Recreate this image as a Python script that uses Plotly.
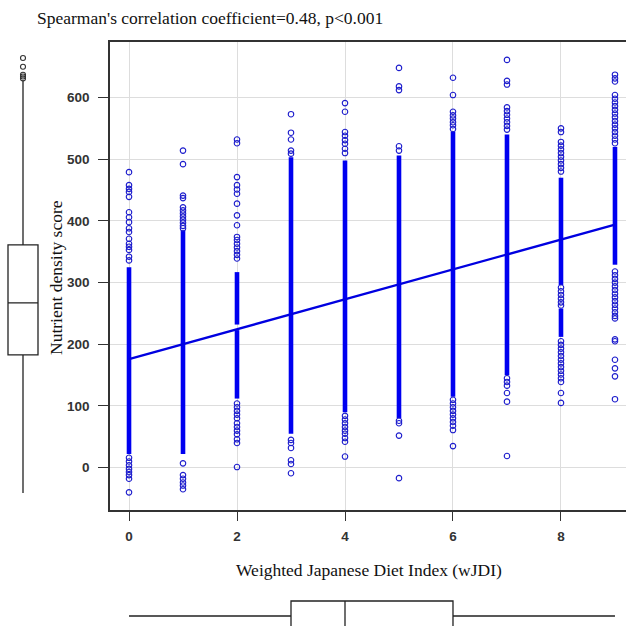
import plotly.graph_objects as go

# ---------------- data ----------------
WJDI = [0, 1, 2, 3, 4, 5, 6, 7, 8, 9]

# individually visible points (nutrient density score) per wJDI value
PTS_0 = [479, 458, 452, 447, 439, 414, 406, 398, 388, 382, 371, 363, 358, 353, 342, 336,
         16, 10, 4, -2, -7, -12, -18, -40]
PTS_1 = [514, 492, 441, 437, 422, 417, 412, 407, 402, 397, 392, 388,
         7, -12, -18, -24, -29, -35]
PTS_2 = [532, 526, 471, 458, 451, 444, 428, 409, 393, 374, 369, 363, 357, 351, 345, 339,
         104, 98, 92, 86, 80, 72, 66, 60, 54, 46, 40, 1]
PTS_3 = [573, 543, 532, 514, 509, 45, 40, 32, 12, 6, -9]
PTS_4 = [591, 577, 544, 538, 531, 525, 517, 510, 84, 78, 72, 66, 60, 55, 48, 42, 18]
PTS_5 = [648, 618, 612, 521, 514, 76, 72, 52, -17]
PTS_6 = [632, 604, 577, 571, 566, 560, 555, 549,
         110, 104, 98, 92, 86, 80, 74, 68, 61, 35]
PTS_7 = [661, 627, 621, 584, 578, 572, 566, 560, 554, 548, 145, 139, 133, 121, 107, 19]
PTS_8 = [550, 544, 528, 522, 516, 510, 504, 498, 492, 486, 480,
         292, 286, 280, 274, 268, 263, 205, 199, 193, 187, 181, 175, 169, 163, 157, 151, 145, 139,
         121, 105]
PTS_9 = [637, 631, 626, 604, 598, 592, 586, 580, 574, 568, 562, 556, 550, 544, 538, 532, 526,
         318, 312, 306, 300, 294, 288, 282, 276, 270, 264, 258, 252, 246, 242,
         208, 205, 175, 161, 148, 111]
POINTS = [PTS_0, PTS_1, PTS_2, PTS_3, PTS_4, PTS_5, PTS_6, PTS_7, PTS_8, PTS_9]

# ranges where the points overlap into a solid strip (low, high) per wJDI value
DENSE_0 = [(22, 325)]
DENSE_1 = [(22, 385)]
DENSE_2 = [(232, 317), (112, 223)]
DENSE_3 = [(55, 503)]
DENSE_4 = [(90, 498)]
DENSE_5 = [(80, 506)]
DENSE_6 = [(115, 545)]
DENSE_7 = [(150, 540)]
DENSE_8 = [(296, 470), (212, 258)]
DENSE_9 = [(329, 520)]
DENSE = [DENSE_0, DENSE_1, DENSE_2, DENSE_3, DENSE_4, DENSE_5, DENSE_6, DENSE_7, DENSE_8, DENSE_9]

# fitted regression line end points
FIT_X = [0, 9]
FIT_Y = [176, 394]

# marginal box plot of the score
Y_BOX = dict(q1=183, median=267, q3=361, lowerfence=-41, upperfence=628)
Y_OUTLIERS = [664, 650, 637, 634, 631]
# marginal box plot of wJDI
X_BOX = dict(q1=3, median=4, q3=6, lowerfence=0, upperfence=9)

X_TICKS = [0, 2, 4, 6, 8]
Y_TICKS = [0, 100, 200, 300, 400, 500, 600]

TITLE = "Spearman's correlation coefficient=0.48, p<0.001"
X_TITLE = "Weighted Japanese Diet Index (wJDI)"
Y_TITLE = "Nutrient density score"

# ---------------- figure ----------------
W = H = 626
BLUE_PT = "#1b1bcc"
BLUE_STRIP = "#0000f0"
SERIF = "Liberation Serif"

fig = go.Figure()

# dense strips
dx, dy = [], []
for x, segs in zip(WJDI, DENSE):
    for lo, hi in segs:
        dx += [x, x, None]
        dy += [lo, hi, None]
fig.add_trace(go.Scatter(x=dx, y=dy, mode="lines", line=dict(color=BLUE_STRIP, width=4.6),
                         hoverinfo="skip", showlegend=False, xaxis="x", yaxis="y"))

# individual points
px_, py_ = [], []
for x, pts in zip(WJDI, POINTS):
    px_ += [x] * len(pts)
    py_ += pts
fig.add_trace(go.Scatter(x=px_, y=py_, mode="markers",
                         marker=dict(symbol="circle-open", size=5.5, color=BLUE_PT,
                                     line=dict(width=1.1, color=BLUE_PT)),
                         showlegend=False, xaxis="x", yaxis="y"))

# regression line
fig.add_trace(go.Scatter(x=FIT_X, y=FIT_Y, mode="lines",
                         line=dict(color="#0000e0", width=2.3),
                         showlegend=False, xaxis="x", yaxis="y"))

# left marginal box plot
fig.add_trace(go.Box(x=[0], q1=[Y_BOX["q1"]], median=[Y_BOX["median"]], q3=[Y_BOX["q3"]],
                     lowerfence=[Y_BOX["lowerfence"]], upperfence=[Y_BOX["upperfence"]],
                     width=1.304, whiskerwidth=0, boxpoints=False,
                     line=dict(color="#222222", width=1.3), fillcolor="white",
                     showlegend=False, xaxis="x2", yaxis="y2"))
fig.add_trace(go.Scatter(x=[0] * len(Y_OUTLIERS), y=Y_OUTLIERS, mode="markers",
                         marker=dict(symbol="circle-open", size=5, color="#333333",
                                     line=dict(width=1.1, color="#333333")),
                         showlegend=False, xaxis="x2", yaxis="y2"))

# bottom marginal box plot
fig.add_trace(go.Box(y=[0], q1=[X_BOX["q1"]], median=[X_BOX["median"]], q3=[X_BOX["q3"]],
                     lowerfence=[X_BOX["lowerfence"]], upperfence=[X_BOX["upperfence"]],
                     orientation="h", width=1.5, whiskerwidth=0, boxpoints=False,
                     line=dict(color="#222222", width=1.3), fillcolor="white",
                     showlegend=False, xaxis="x3", yaxis="y3"))

x_dom = [110 / W, 1.0]
y_dom = [1 - 510 / H, 1 - 42 / H]
x_rng = [-0.352, 9.204]
y_rng = [-68.6, 690.0]
tickfont = dict(family="Liberation Sans", size=13.5, color="#333333", weight="bold")

fig.update_layout(
    width=W, height=H,
    margin=dict(l=0, r=0, t=0, b=0),
    paper_bgcolor="white", plot_bgcolor="white",
    xaxis=dict(domain=x_dom, range=x_rng, tickvals=X_TICKS, ticks="outside", ticklen=9,
               tickwidth=1.3, tickcolor="#333333", showgrid=True, gridcolor="#dddddd",
               gridwidth=1, showline=True, linecolor="#333333", linewidth=1.5, mirror=True,
               zeroline=False, tickfont=tickfont, ticklabelstandoff=4, anchor="y"),
    yaxis=dict(domain=y_dom, range=y_rng, tickvals=Y_TICKS, ticks="outside", ticklen=10,
               tickwidth=1.3, tickcolor="#333333", showgrid=True, gridcolor="#dddddd",
               gridwidth=1, showline=True, linecolor="#333333", linewidth=1.5,
               zeroline=False, tickfont=tickfont, ticklabelstandoff=6, anchor="x"),
    xaxis2=dict(domain=[0, 46 / W], range=[-1, 1], visible=False, anchor="y2"),
    yaxis2=dict(domain=y_dom, range=y_rng, visible=False, anchor="x2"),
    xaxis3=dict(domain=x_dom, range=x_rng, visible=False, anchor="y3"),
    yaxis3=dict(domain=[0, 40 / H], range=[-0.5, 1.5], visible=False, anchor="x3"),
    annotations=[
        dict(text=TITLE, x=35 / W, y=1 - 18 / H, xref="paper", yref="paper",
             xanchor="left", yanchor="middle", showarrow=False,
             font=dict(family=SERIF, size=17.5, color="#111111")),
        dict(text=X_TITLE, x=369 / W, y=1 - 570 / H, xref="paper", yref="paper",
             xanchor="center", yanchor="middle", showarrow=False,
             font=dict(family=SERIF, size=17.5, color="#111111")),
        dict(text=Y_TITLE, x=56 / W, y=1 - 278 / H, xref="paper", yref="paper",
             xanchor="center", yanchor="middle", showarrow=False, textangle=-90,
             font=dict(family=SERIF, size=17.5, color="#111111")),
    ],
)

fig.write_html("out.html")
